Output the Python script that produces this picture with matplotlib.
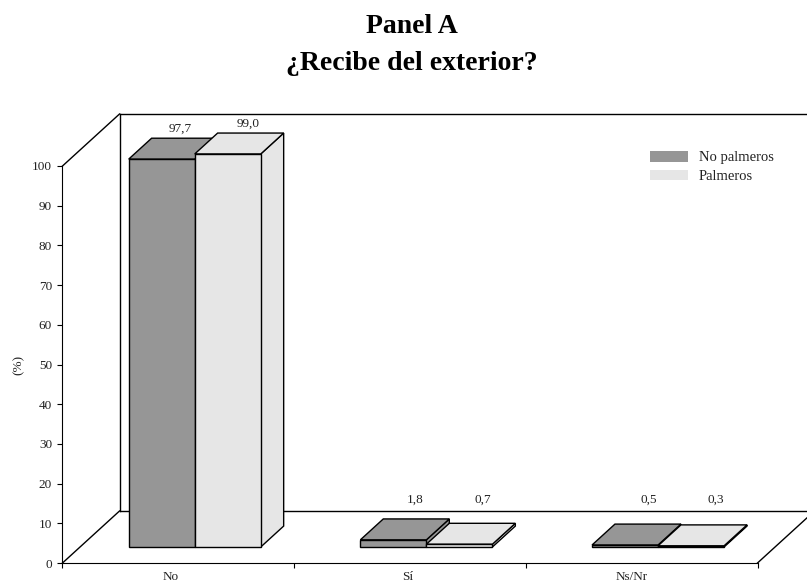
import matplotlib
matplotlib.use("Agg")
import matplotlib.pyplot as plt
from matplotlib.patches import Patch

categories = ["No", "Sí", "Ns/Nr"]
no_palmeros = [97.7, 1.8, 0.5]
palmeros = [99.0, 0.7, 0.3]
yticks = list(range(0, 101, 10))
series_names = ["No palmeros", "Palmeros"]

DARK = "#969696"
LIGHT = "#e6e6e6"
TEXT = "#222222"
W, H = 807, 587

plt.rcParams["font.family"] = ["Liberation Serif", "DejaVu Serif"]
plt.rcParams["font.size"] = 9.5

fig = plt.figure(figsize=(W / 100, H / 100), dpi=100)
# front plane of the 3d box, pixels from the top left
left, right, top, bottom = 62.5, 757.5, 166, 563
ax = fig.add_axes([left / W, 1 - bottom / H, (right - left) / W, (bottom - top) / H])
ax.set_xlim(0, 3)
ax.set_ylim(0, 100)

# oblique depth: one full depth moves this far in data units
DX = 57 / ((right - left) / 3)
DY = 52 / ((bottom - top) / 100)


def proj(x, y, d):
    return x + d * DX, y + d * DY


def poly(points, color, z, lw=1.0):
    xs = [p[0] for p in points]
    ys = [p[1] for p in points]
    ax.fill(xs, ys, facecolor=color, edgecolor="black", linewidth=lw, zorder=z,
            clip_on=False, joinstyle="miter")


def wall_line(a, b):
    ax.plot([a[0], b[0]], [a[1], b[1]], color="black", lw=1.0, zorder=1, clip_on=False)


# walls and floor
wall_line(proj(0, 0, 0), proj(0, 0, 1))
wall_line(proj(0, 100, 0), proj(0, 100, 1))
wall_line(proj(0, 0, 1), proj(0, 100, 1))
wall_line(proj(0, 100, 1), proj(3, 100, 1))
wall_line(proj(0, 0, 1), proj(3, 0, 1))
wall_line(proj(3, 0, 0), proj(3, 0, 1))

bar_w = 0.285
gap = 0.21
d0, d1 = 0.308, 0.71
# label shifts in pixels, the source chart places them unevenly
label_dx = [[-4, -3], [-1, 0], [1, 2]]


def draw_bar(x0, v, color, z, dx):
    x1 = x0 + bar_w
    side = [proj(x1, 0, d0), proj(x1, 0, d1), proj(x1, v, d1), proj(x1, v, d0)]
    roof = [proj(x0, v, d0), proj(x0, v, d1), proj(x1, v, d1), proj(x1, v, d0)]
    front = [proj(x0, 0, d0), proj(x1, 0, d0), proj(x1, v, d0), proj(x0, v, d0)]
    poly(side, color, z)
    poly(roof, color, z)
    poly(front, color, z)
    # value label sits above the back of the roof, small bars share one height
    lx, ly = proj(x0 + bar_w / 2, max(v, 4.3), d1)
    ax.annotate(f"{v:.1f}".replace(".", ","), (lx, ly), xytext=(dx, 3.5),
                textcoords="offset pixels", ha="center", va="bottom",
                annotation_clip=False, zorder=10, color=TEXT)


for i in range(len(categories)):
    draw_bar(i + gap, no_palmeros[i], DARK, 3 + i, label_dx[i][0])
    draw_bar(i + gap + bar_w, palmeros[i], LIGHT, 3.5 + i, label_dx[i][1])

for s in ["top", "right"]:
    ax.spines[s].set_visible(False)
ax.set_yticks(yticks)
ax.set_xticks(range(len(categories) + 1))
ax.set_xticklabels([])
ax.tick_params(axis="both", length=3.5, width=0.8, colors="black", labelcolor=TEXT)
ax.tick_params(axis="y", pad=4)

nudge = [-8, -2, -10]
for i, c in enumerate(categories):
    ax.annotate(c, (i + 0.5, 0), xytext=(nudge[i], -8), textcoords="offset pixels",
                ha="center", va="top", annotation_clip=False, color=TEXT)

ax.set_ylabel("(%)", labelpad=5, color=TEXT)

fig.text(412 / W, 1 - 33 / H, "Panel A", ha="center", va="baseline",
         fontsize=20, fontweight="bold")
fig.text(412 / W, 1 - 70 / H, "¿Recibe del exterior?", ha="center", va="baseline",
         fontsize=20, fontweight="bold")

handles = [Patch(facecolor=DARK, edgecolor="none"), Patch(facecolor=LIGHT, edgecolor="none")]
ax.legend(handles, series_names, loc="upper left", frameon=False, fontsize=10.5,
          bbox_to_anchor=(650 / W, 1 - 151 / H), bbox_transform=fig.transFigure,
          borderaxespad=0, borderpad=0, handlelength=2.6, handleheight=0.75,
          handletextpad=0.75, labelspacing=0.35, labelcolor=TEXT)

fig.savefig("out.png", dpi=100)
